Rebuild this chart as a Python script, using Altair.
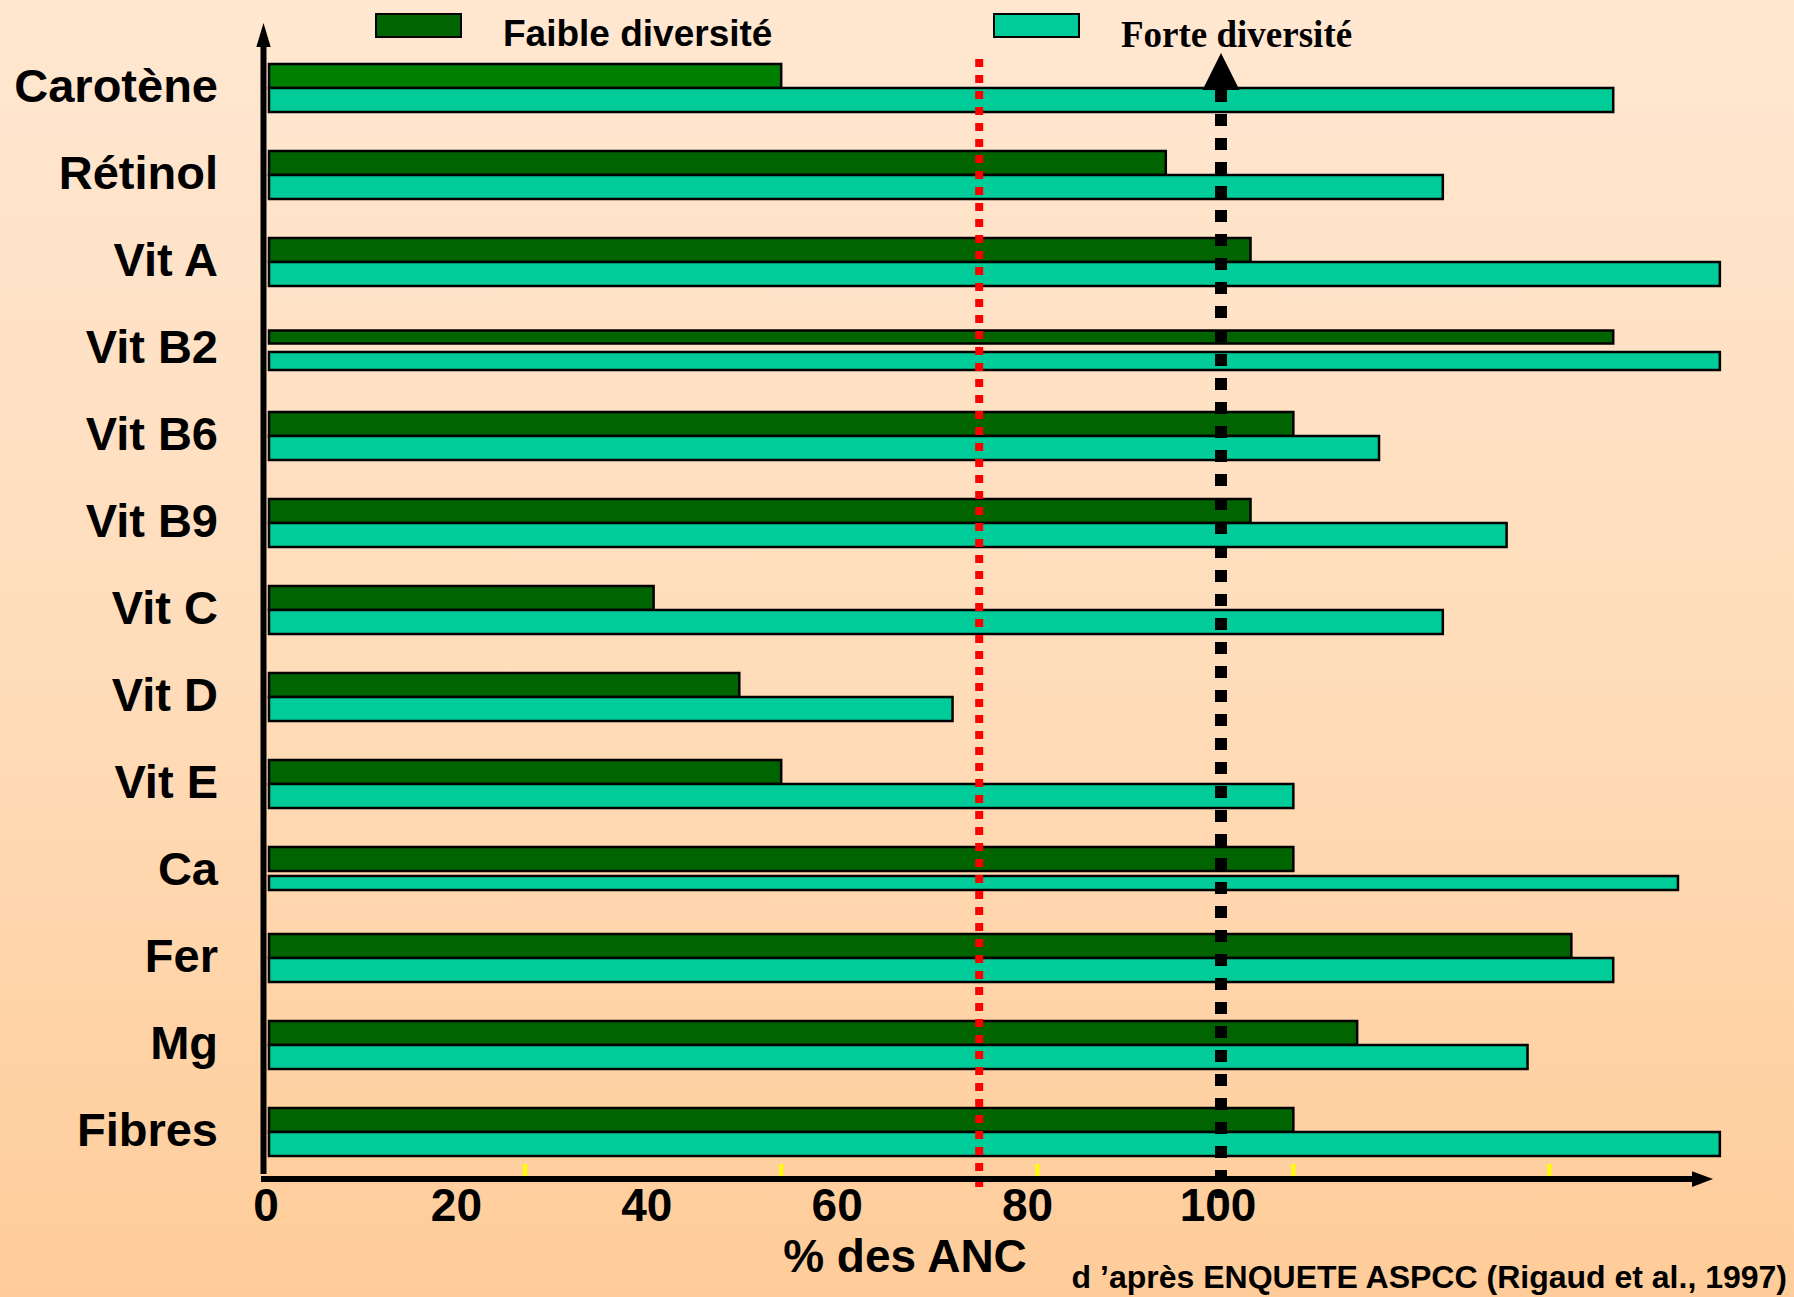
import altair as alt
import pandas as pd

# --- data -------------------------------------------------------------
nutriments = ["Carotène", "Rétinol", "Vit A", "Vit B2", "Vit B6", "Vit B9",
              "Vit C", "Vit D", "Vit E", "Ca", "Fer", "Mg", "Fibres"]
faible = [53.8, 94.2, 103.1, 141.2, 107.6, 103.1, 40.4, 49.4, 53.8,
          107.6, 136.8, 114.3, 107.6]
forte = [141.2, 123.3, 152.4, 152.4, 116.6, 130.0, 123.3, 71.8, 107.6,
         148.0, 141.2, 132.2, 152.4]
series = ["Faible diversité", "Forte diversité"]
x_ticks = [0, 20, 40, 60, 80, 100]
minor_ticks = [26.9, 53.8, 80.7, 107.6, 134.5]
seuil_bas = 74.6
anc = 100
x_title = "% des ANC"
source = "d \u2019après ENQUETE ASPCC (Rigaud et al., 1997)"

W, H = 1794, 1297
SANS = "Liberation Sans"
SERIF = "Liberation Serif"
DARK = "#006400"
TEAL = "#00CC99"

long = pd.DataFrame({
    "nutriment": nutriments * 2,
    "serie": [series[0]] * len(nutriments) + [series[1]] * len(nutriments),
    "pct": faible + forte,
})

x_scale = alt.Scale(domain=[0, 100], range=[269, 1221], nice=False, zero=True)
y_scale = alt.Scale(domain=nutriments, range=[64, 1156],
                    paddingInner=0.448, paddingOuter=0)

one = pd.DataFrame({"k": [0]})

# --- background gradient ---------------------------------------------
background = alt.Chart(one).mark_rect(
    fill=alt.Gradient(
        gradient="linear", x1=0, x2=0, y1=0, y2=1,
        stops=[alt.GradientStop(color="#FFE7D1", offset=0),
               alt.GradientStop(color="#FFDDBB", offset=0.5),
               alt.GradientStop(color="#FFCC99", offset=1)],
    ),
    strokeWidth=0,
).encode(x=alt.value(0), x2=alt.value(W), y=alt.value(0), y2=alt.value(H))

# --- bars -------------------------------------------------------------
bars = alt.Chart(long).mark_bar(stroke="black", strokeWidth=2.5).encode(
    x=alt.X("pct:Q", scale=x_scale, axis=None),
    y=alt.Y("nutriment:N", scale=y_scale, axis=None),
    yOffset=alt.YOffset("serie:N", sort=series,
                        scale=alt.Scale(paddingInner=0, paddingOuter=0)),
    color=alt.condition(
        "datum.nutriment === 'Carotène' && datum.serie === 'Faible diversité'",
        alt.value("#008000"),
        alt.Color("serie:N", scale=alt.Scale(domain=series, range=[DARK, TEAL]),
                  legend=None),
    ),
    size=alt.value(24, condition=[
        {"test": "datum.nutriment === 'Vit B2' && datum.serie === 'Faible diversité'", "value": 13},
        {"test": "datum.nutriment === 'Vit B2'", "value": 18},
        {"test": "datum.nutriment === 'Ca' && datum.serie === 'Forte diversité'", "value": 14},
    ]),
)

# --- reference lines --------------------------------------------------
red_line = alt.Chart(pd.DataFrame({"v": [seuil_bas]})).mark_rule(
    color="#FF0000", strokeWidth=8, strokeDash=[8, 8], strokeCap="butt"
).encode(x=alt.X("v:Q", scale=x_scale, axis=None),
         y=alt.value(59), y2=alt.value(1190))

black_line = alt.Chart(pd.DataFrame({"v": [anc]})).mark_rule(
    color="black", strokeWidth=12, strokeDash=[12, 12], strokeCap="butt"
).encode(x=alt.X("v:Q", scale=x_scale, axis=None),
         y=alt.value(90), y2=alt.value(1198))

black_arrow = alt.Chart(pd.DataFrame({"v": [anc]})).mark_point(
    shape="M-1,1 L0,-1 L1,1 Z", filled=True, color="black", opacity=1,
    size=37 * 37,
).encode(x=alt.X("v:Q", scale=x_scale, axis=None), y=alt.value(71.5))

# --- hand-drawn axes --------------------------------------------------
y_axis = alt.Chart(one).mark_rule(color="black", strokeWidth=6).encode(
    x=alt.value(263.5), y=alt.value(42), y2=alt.value(1174))
y_arrow = alt.Chart(one).mark_point(
    shape="M-0.6,1 L0,-1 L0.6,1 Z", filled=True, color="black", opacity=1,
    size=24 * 24,
).encode(x=alt.value(263.5), y=alt.value(35))

x_axis = alt.Chart(one).mark_rule(color="black", strokeWidth=6).encode(
    x=alt.value(261), x2=alt.value(1698), y=alt.value(1179))
x_arrow = alt.Chart(one).mark_point(
    shape="M-1,-0.75 L1,0 L-1,0.75 Z", filled=True, color="black", opacity=1,
    size=21 * 21,
).encode(x=alt.value(1702.5), y=alt.value(1179))

yellow = alt.Chart(pd.DataFrame({"v": minor_ticks})).mark_rule(
    color="#FFFF00", strokeWidth=4
).encode(x=alt.X("v:Q", scale=x_scale, axis=None),
         y=alt.value(1164), y2=alt.value(1176))

tick_labels = alt.Chart(pd.DataFrame({"v": x_ticks})).mark_text(
    font=SANS, fontWeight="bold", fontSize=46, baseline="middle", dx=-3,
    color="black",
).encode(x=alt.X("v:Q", scale=x_scale, axis=None), y=alt.value(1207),
         text="v:Q")

row_labels = alt.Chart(pd.DataFrame({"nutriment": nutriments})).mark_text(
    font=SANS, fontWeight="bold", fontSize=47, align="right", baseline="middle",
    color="black",
).encode(y=alt.Y("nutriment:N", scale=y_scale, axis=None), x=alt.value(218),
         text="nutriment:N")

title_x = alt.Chart(one).mark_text(
    text=x_title, font=SANS, fontWeight="bold", fontSize=46,
    align="center", baseline="middle", color="black",
).encode(x=alt.value(905), y=alt.value(1258))

credit = alt.Chart(one).mark_text(
    text=source, font=SANS, fontWeight="bold", fontSize=32,
    align="right", baseline="middle", color="black",
).encode(x=alt.value(1787), y=alt.value(1278))

# --- legend -----------------------------------------------------------
legend_df = pd.DataFrame({
    "serie": series,
    "x0": [376, 994], "x1": [461, 1079],
})
swatches = alt.Chart(legend_df).mark_rect(stroke="black", strokeWidth=2).encode(
    x=alt.X("x0:Q", scale=None), x2="x1:Q",
    y=alt.value(14), y2=alt.value(37),
    fill=alt.Fill("serie:N", scale=alt.Scale(domain=series, range=[DARK, TEAL]),
                  legend=None),
)
leg_sans = alt.Chart(one).mark_text(
    text=series[0], font=SANS, fontWeight="bold", fontSize=37,
    align="left", baseline="middle", color="black",
).encode(x=alt.value(503), y=alt.value(35))
leg_serif = alt.Chart(one).mark_text(
    text=series[1], font=SERIF, fontWeight="bold", fontSize=37,
    align="left", baseline="middle", color="black",
).encode(x=alt.value(1121), y=alt.value(36))

chart = alt.layer(
    background, bars, red_line, black_line, black_arrow,
    y_axis, y_arrow, x_axis, x_arrow, yellow,
    tick_labels, row_labels, title_x, credit,
    swatches, leg_sans, leg_serif,
).resolve_scale(fill="independent").properties(
    width=W, height=H, padding=0,
    autosize=alt.AutoSizeParams(type="none"),
).configure_view(stroke=None)

chart.save("out.html", embed_options={"renderer": "svg", "actions": False})
